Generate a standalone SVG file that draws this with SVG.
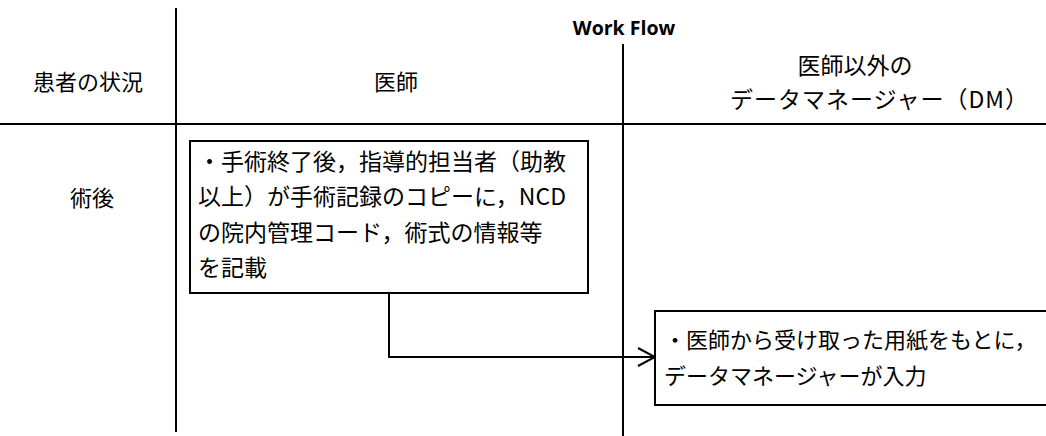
<svg xmlns="http://www.w3.org/2000/svg" width="1046" height="436" viewBox="0 0 1046 436">
<style>
.t{font-family:"Noto Sans CJK JP","Noto Sans",sans-serif;font-size:22px;fill:#000}
.h{font-family:"Noto Sans CJK JP","Noto Sans",sans-serif;font-size:23px;fill:#000}
.b{font-family:"Noto Sans CJK JP","Noto Sans",sans-serif;font-size:23px;fill:#000}
.wf{font-family:"Open Sans","Liberation Sans",sans-serif;font-size:19.5px;font-weight:bold;fill:#000}
.ln{stroke:#000;stroke-width:2;fill:none}
.box{fill:#fff;stroke:#000;stroke-width:2}
</style>
<defs>
<marker id="arr" viewBox="0 0 22 22" refX="20" refY="11" markerWidth="22" markerHeight="22" markerUnits="userSpaceOnUse" orient="auto">
<polyline points="3,2 20,11 3,20" fill="none" stroke="#000" stroke-width="2"/>
</marker>
</defs>
<g id="grid">
<line class="ln" x1="176" y1="8" x2="176" y2="432"/>
<line class="ln" x1="623" y1="44" x2="623" y2="436"/>
<line class="ln" x1="0" y1="124" x2="1046" y2="124"/>
</g>
<g id="headers">
<text class="wf" x="624" y="35" text-anchor="middle">Work Flow</text>
<text class="t" x="88" y="90" text-anchor="middle">患者の状況</text>
<text class="t" x="396" y="90" text-anchor="middle">医師</text>
<text class="h" x="855" y="74" text-anchor="middle">医師以外の</text>
<text class="h" x="730" y="108" textLength="298" lengthAdjust="spacing">データマネージャー（DM）</text>
<text class="t" x="92" y="206" text-anchor="middle">術後</text>
</g>
<g id="connectors">
<polyline class="ln" points="389,294 389,357 655,357" marker-end="url(#arr)"/>
</g>
<g id="node1">
<rect class="box" x="190" y="141" width="398" height="152"/>
<text class="b" x="198" y="170">・手術終了後，指導的担当者（助教</text>
<text class="b" x="198" y="205">以上）が手術記録のコピーに，NCD</text>
<text class="b" x="198" y="241">の院内管理コード，術式の情報等</text>
<text class="b" x="198" y="276">を記載</text>
</g>
<g id="node2">
<rect class="box" x="655" y="311" width="400" height="94"/>
<text class="t" x="664" y="348">・医師から受け取った用紙をもとに，</text>
<text class="t" x="664" y="384">データマネージャーが入力</text>
</g>
</svg>
